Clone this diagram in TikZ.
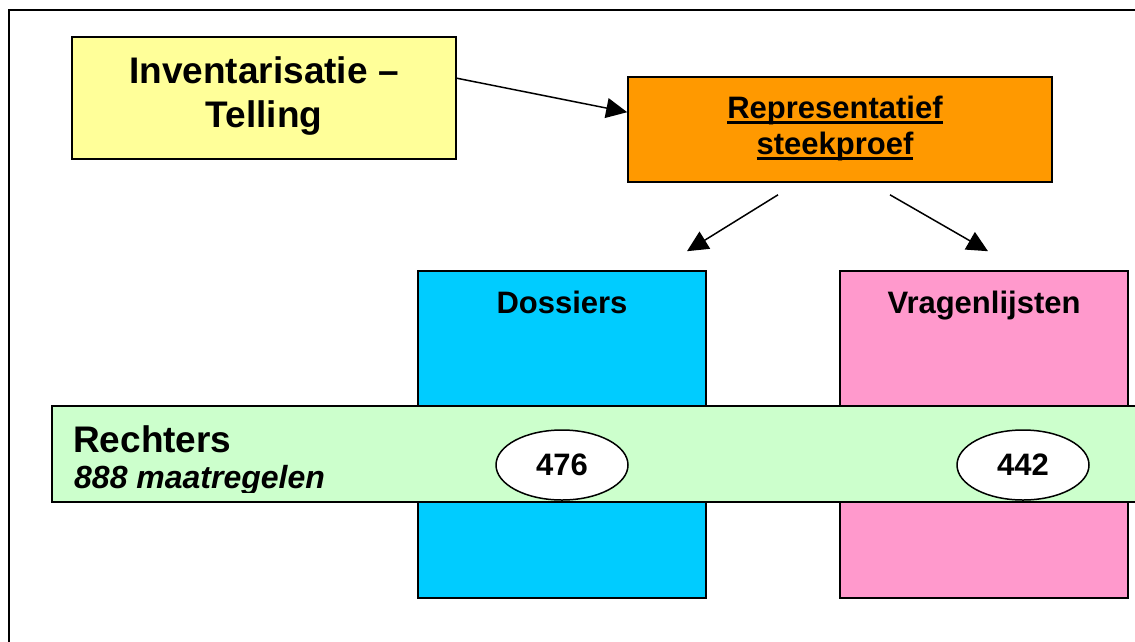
\documentclass[tikz,border=0pt]{standalone}
\usepackage{fontspec}
\setmainfont{Liberation Sans}
\usetikzlibrary{arrows.meta,shapes.geometric}
\definecolor{yel}{HTML}{FFFF99}
\definecolor{org}{HTML}{FF9900}
\definecolor{blu}{HTML}{00CCFF}
\definecolor{pnk}{HTML}{FF99CC}
\definecolor{grn}{HTML}{CCFFCC}
\newcommand\myul[1]{\setbox0\hbox{#1}\rlap{\rule[-6pt]{\wd0}{3pt}}\box0}
\tikzset{
  box/.style={rectangle, draw=black, line width=1.6pt, inner sep=0pt},
  lbl/.style={inner sep=0pt, anchor=base, font=\bfseries\fontsize{31}{36}\selectfont},
  arr/.style={line width=1.5pt, -{Triangle[length=21pt,width=20pt]}},
  oval/.style={ellipse, draw=black, line width=1.5pt, fill=white, inner sep=0pt,
    minimum width=132pt, minimum height=70pt, font=\bfseries\fontsize{31}{36}\selectfont}
}
\begin{document}
\begin{tikzpicture}[x=1pt,y=-1pt]
\useasboundingbox (0,0) rectangle (1135,641);
\draw[line width=2.6pt] (9,645) -- (9,10) -- (1140,10);

% boxes
\node[box, fill=yel, minimum width=384pt, minimum height=122pt] (inv) at (264,98) {};
\node[box, fill=org, minimum width=424pt, minimum height=105pt] (rep) at (840,129.5) {};
\node[box, fill=blu, minimum width=288pt, minimum height=327pt] (dos) at (562,434.5) {};
\node[box, fill=pnk, minimum width=288pt, minimum height=327pt] (vra) at (984,434.5) {};
\node[box, fill=grn, minimum width=1093pt, minimum height=96pt] (bar) at (598.5,454) {};

% texts
\node[lbl, font=\bfseries\fontsize{37}{44}\selectfont] (t1) at (264,83) {Inventarisatie --};
\node[lbl, font=\bfseries\fontsize{37}{44}\selectfont] (t2) at (264,127) {Telling};
\node[lbl] (t3) at (835,118) {\myul{Representatief}};
\node[lbl] (t4) at (835,154) {\myul{steekproef}};
\node[lbl] (t5) at (562,313) {Dossiers};
\node[lbl] (t6) at (984,313) {Vragenlijsten};
\node[lbl, anchor=base west, font=\bfseries\fontsize{37}{44}\selectfont] (t7) at (73,452) {Rechters};
\begin{scope}
\clip (52,406) rectangle (1135,492);
\node[lbl, anchor=base west, font=\bfseries\itshape\fontsize{32}{36}\selectfont] (t8) at (74,488) {888 maatregelen};
\end{scope}

% ovals
\node[oval] (o1) at (562,465) {476};
\node[oval] (o2) at (1023,465) {442};

% connectors
\draw[arr] ([yshift=-42pt]inv.north east) -- ([yshift=-36pt]rep.north west);
\draw[arr] ([xshift=-62pt,yshift=-12pt]rep.south) -- ([xshift=125pt,yshift=19pt]dos.north);
\draw[arr] ([xshift=50pt,yshift=-12pt]rep.south) -- ([xshift=4pt,yshift=19pt]vra.north);
\end{tikzpicture}
\end{document}
